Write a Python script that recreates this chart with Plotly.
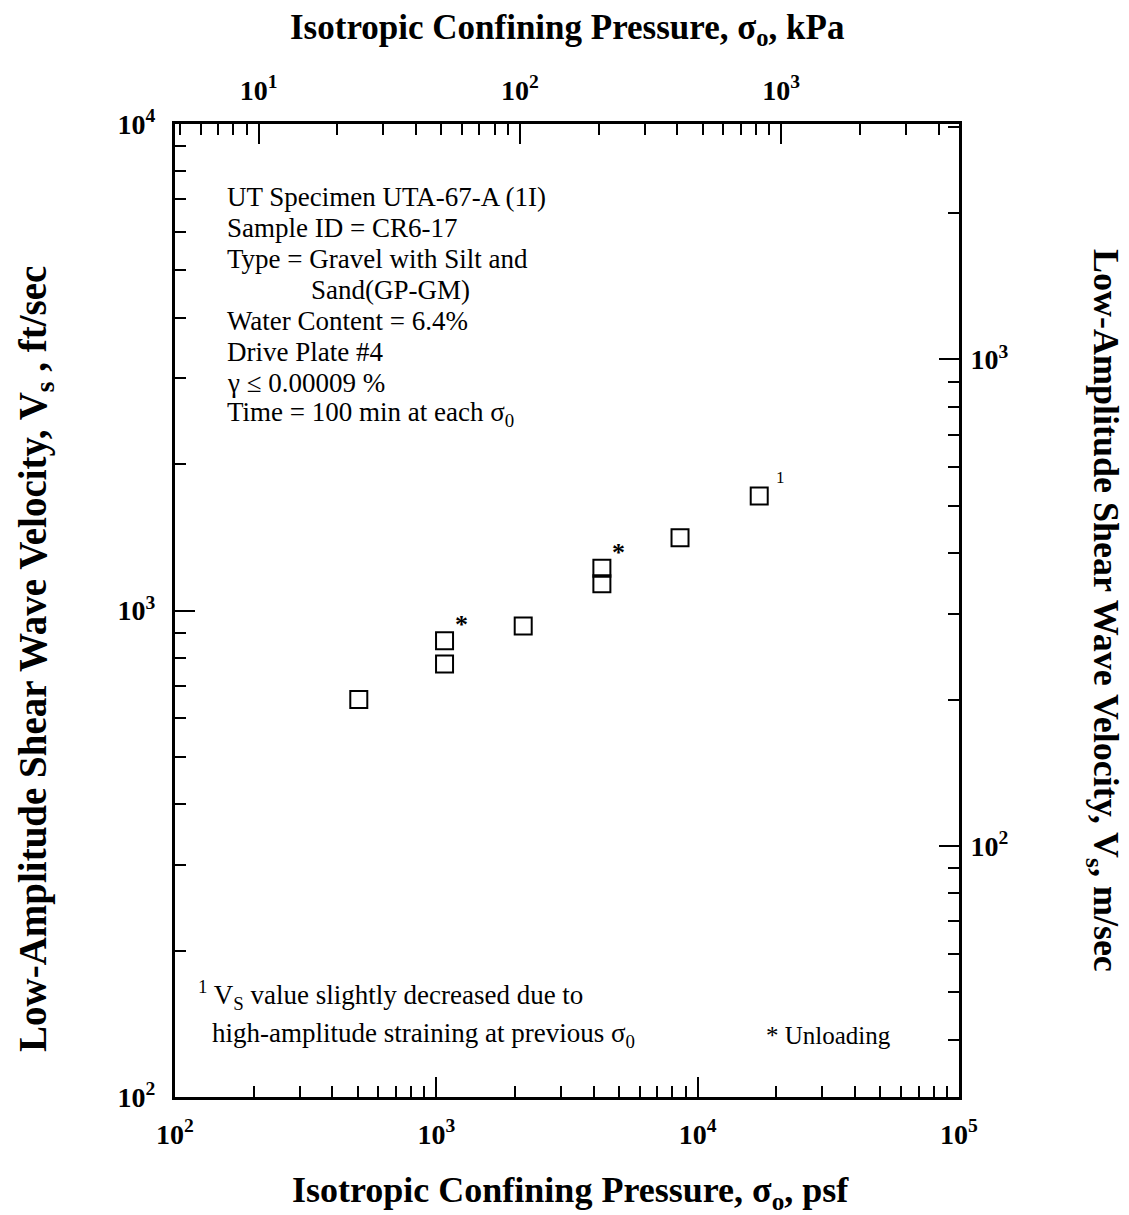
import numpy as np
import plotly.graph_objects as go

# ---- data ----
pressure_psf = [505, 1075, 1075, 2150, 4300, 4300, 8560, 17200]
vs_ftps = [656, 776, 867, 929, 1135, 1221, 1411, 1719]

# notes attached to points (index -> label)
unloading_idx = [2, 5]
footnote_idx = [7]

PSF_PER_KPA = 20.885
FTPS_PER_MPS = 3.2808

x_range_psf = [1e2, 1e5]
y_range_ftps = [1e2, 1e4]

x_major = [1e2, 1e3, 1e4, 1e5]
x_major_text = ["10<sup>2</sup>", "10<sup>3</sup>", "10<sup>4</sup>", "10<sup>5</sup>"]
y_major = [1e2, 1e3, 1e4]
y_major_text = ["10<sup>2</sup>", "10<sup>3</sup>", "10<sup>4</sup>"]
kpa_major = [1e1, 1e2, 1e3]
kpa_major_text = ["10<sup>1</sup>", "10<sup>2</sup>", "10<sup>3</sup>"]
mps_major = [1e2, 1e3]
mps_major_text = ["10<sup>2</sup>", "10<sup>3</sup>"]

info_lines = [
    "UT Specimen UTA-67-A (1I)",
    "Sample ID = CR6-17",
    "Type = Gravel with Silt and",
    "Sand(GP-GM)",
    "Water Content = 6.4%",
    "Drive Plate #4",
    "γ ≤ 0.00009 %",
    "Time = 100 min at each σ<sub>0</sub>",
]

FONT = "Liberation Serif"

# plot-area geometry on screen (page has an 8px body margin)
PAGE_OFF = 8
PL, PR, PT, PB = 175, 959, 124, 1097
PW, PH = PR - PL, PB - PT


def minors(lo, hi):
    vals = []
    for d in range(int(np.floor(np.log10(lo))) - 1, int(np.ceil(np.log10(hi))) + 1):
        for m in range(2, 10):
            v = m * 10 ** d
            if lo < v < hi:
                vals.append(v)
    return vals


def px(x):
    return (x - PL) / PW


def py(y):
    return (PB - y) / PH


kpa_lo, kpa_hi = x_range_psf[0] / PSF_PER_KPA, x_range_psf[1] / PSF_PER_KPA
mps_lo, mps_hi = y_range_ftps[0] / FTPS_PER_MPS, y_range_ftps[1] / FTPS_PER_MPS

fig = go.Figure()
fig.add_trace(go.Scatter(
    x=pressure_psf, y=vs_ftps, mode="markers",
    marker=dict(symbol="square-open", size=17, color="black", line=dict(width=2, color="black")),
    showlegend=False, hoverinfo="x+y",
))
fig.add_trace(go.Scatter(x=[], y=[], xaxis="x2", yaxis="y2", showlegend=False))

axis_common = dict(
    type="log", showgrid=False, zeroline=False, showline=True, linewidth=3, linecolor="black",
    ticks="inside", ticklen=20, tickwidth=2, tickcolor="black",
    tickfont=dict(family=FONT, size=28, color="black", weight="bold"),
)
minor_common = dict(ticks="inside", ticklen=11, tickwidth=2, tickcolor="black")

W, H = 1129 - PAGE_OFF, 1215 - PAGE_OFF
fig.update_layout(
    width=W, height=H,
    margin=dict(l=PL - PAGE_OFF, r=W - (PR - PAGE_OFF), t=PT - PAGE_OFF, b=H - (PB - PAGE_OFF)),
    paper_bgcolor="white", plot_bgcolor="white",
    xaxis=dict(
        **axis_common, range=[np.log10(v) for v in x_range_psf],
        tickvals=x_major, ticktext=x_major_text,
        minor=dict(tickvals=minors(*x_range_psf), **minor_common),
        anchor="y", side="bottom", ticklabelstandoff=10,
    ),
    yaxis=dict(
        **axis_common, range=[np.log10(v) for v in y_range_ftps],
        tickvals=y_major, ticktext=y_major_text,
        minor=dict(tickvals=minors(*y_range_ftps), **minor_common),
        anchor="x", side="left", ticklabelstandoff=11,
    ),
    xaxis2=dict(
        **axis_common, range=[np.log10(kpa_lo), np.log10(kpa_hi)],
        tickvals=kpa_major, ticktext=kpa_major_text,
        minor=dict(tickvals=minors(kpa_lo, kpa_hi), **minor_common),
        overlaying="x", anchor="y", side="top", ticklabelstandoff=10,
    ),
    yaxis2=dict(
        **axis_common, range=[np.log10(mps_lo), np.log10(mps_hi)],
        tickvals=mps_major, ticktext=mps_major_text,
        minor=dict(tickvals=minors(mps_lo, mps_hi), **minor_common),
        overlaying="y", anchor="x", side="right", ticklabelstandoff=3,
    ),
)


def tfont(size):
    return dict(family=FONT, size=size, color="black", weight="bold")


text_font = dict(family=FONT, size=27, color="black")

ann = []
# axis titles
ann.append(dict(text="Isotropic Confining Pressure, σ<sub>o</sub>, kPa", x=px(567), y=py(30), xref="paper",
                yref="paper", showarrow=False, font=tfont(35), xanchor="center", yanchor="middle"))
ann.append(dict(text="Isotropic Confining Pressure, σ<sub>o</sub>, psf", x=px(570), y=py(1192), xref="paper",
                yref="paper", showarrow=False, font=tfont(36), xanchor="center", yanchor="middle"))
ann.append(dict(text="Low-Amplitude Shear Wave Velocity, V<sub>s</sub> , ft/sec", x=px(35), y=py(659),
                xref="paper", yref="paper", showarrow=False, font=tfont(39), textangle=-90,
                xanchor="center", yanchor="middle"))
ann.append(dict(text="Low-Amplitude Shear Wave Velocity, V<sub>s</sub>, m/sec", x=px(1104), y=py(610),
                xref="paper", yref="paper", showarrow=False, font=tfont(36), textangle=90,
                xanchor="center", yanchor="middle"))

# info block
line_y0 = 197
for i, t in enumerate(info_lines):
    x0 = 309 if t.startswith("Sand(") else 225
    ann.append(dict(text=t, x=px(x0), y=py(line_y0 + 31 * i), xref="paper", yref="paper",
                    showarrow=False, font=text_font, xanchor="left", yanchor="middle"))

# footnotes
ann.append(dict(text="<sup>1</sup> V<sub>S</sub> value slightly decreased due to", x=px(196), y=py(995),
                xref="paper", yref="paper", showarrow=False, font=text_font, xanchor="left", yanchor="middle"))
ann.append(dict(text="high-amplitude straining at previous σ<sub>0</sub>", x=px(210), y=py(1035),
                xref="paper", yref="paper", showarrow=False, font=text_font, xanchor="left", yanchor="middle"))
ann.append(dict(text="* Unloading", x=px(764), y=py(1035), xref="paper", yref="paper", showarrow=False,
                font=dict(family=FONT, size=25, color="black"), xanchor="left", yanchor="middle"))

# labels next to points
for i in unloading_idx:
    ann.append(dict(text="*", x=np.log10(pressure_psf[i]), y=np.log10(vs_ftps[i]), xref="x", yref="y",
                    showarrow=False, font=dict(family=FONT, size=26, color="black", weight="bold"),
                    xshift=17, yshift=16, xanchor="center", yanchor="middle"))
for i in footnote_idx:
    ann.append(dict(text="1", x=np.log10(pressure_psf[i]), y=np.log10(vs_ftps[i]), xref="x", yref="y",
                    showarrow=False, font=dict(family=FONT, size=17, color="black"),
                    xshift=21, yshift=19, xanchor="center", yanchor="middle"))

fig.update_layout(annotations=ann)
fig.write_html("out.html")
